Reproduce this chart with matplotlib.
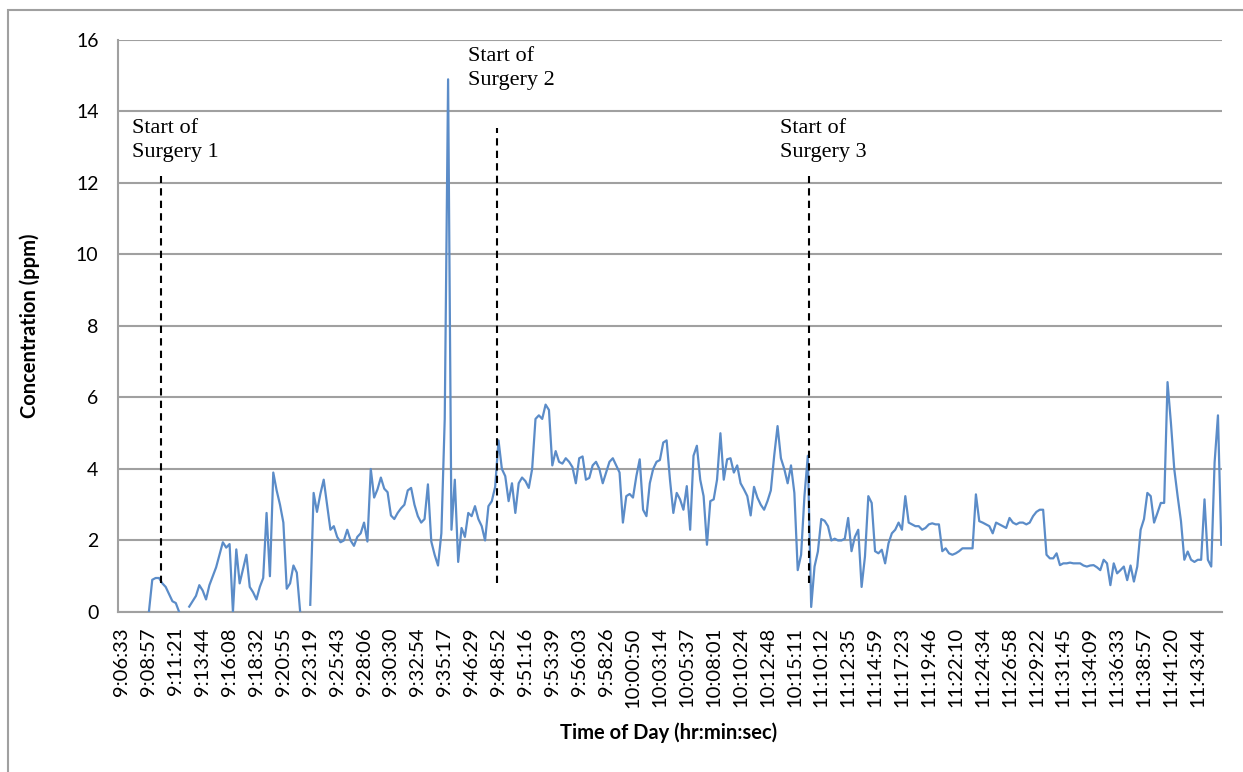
import numpy as np
import matplotlib.pyplot as plt
from matplotlib.patches import Rectangle

# tick labels on the category axis
time_labels = ["9:06:33", "9:08:57", "9:11:21", "9:13:44", "9:16:08", "9:18:32", "9:20:55",
               "9:23:19", "9:25:43", "9:28:06", "9:30:30", "9:32:54", "9:35:17", "9:46:29",
               "9:48:52", "9:51:16", "9:53:39", "9:56:03", "9:58:26", "10:00:50", "10:03:14",
               "10:05:37", "10:08:01", "10:10:24", "10:12:48", "10:15:11", "11:10:12", "11:12:35",
               "11:14:59", "11:17:23", "11:19:46", "11:22:10", "11:24:34", "11:26:58", "11:29:22",
               "11:31:45", "11:34:09", "11:36:33", "11:38:57", "11:41:20", "11:43:44"]

# concentration readings, 8 samples per tick label interval (nan = no reading)
nan = np.nan
conc = [nan, nan, nan, nan, nan, nan, nan, nan, 0.0, 0.9,
        0.95, 0.95, 0.8, 0.7, 0.5, 0.3, 0.25, 0.0, nan, nan,
        0.15, 0.3, 0.45, 0.75, 0.6, 0.35, 0.75, 1.0, 1.25, 1.6,
        1.95, 1.8, 1.9, 0.0, 1.75, 0.8, 1.2, 1.6, 0.7, 0.55,
        0.35, 0.7, 0.95, 2.77, 1.0, 3.9, 3.4, 3.0, 2.5, 0.65,
        0.8, 1.3, 1.1, 0.0, nan, nan, 0.2, 3.33, 2.8, 3.3,
        3.7, 3.0, 2.3, 2.4, 2.1, 1.95, 2.0, 2.3, 2.0, 1.85,
        2.1, 2.2, 2.5, 1.97, 4.0, 3.2, 3.43, 3.76, 3.45, 3.35,
        2.7, 2.6, 2.77, 2.9, 3.0, 3.4, 3.47, 3.0, 2.68, 2.5,
        2.6, 3.57, 1.97, 1.6, 1.3, 2.2, 5.4, 14.9, 2.3, 3.7,
        1.4, 2.35, 2.1, 2.77, 2.68, 2.96, 2.6, 2.4, 2.0, 2.96,
        3.1, 3.5, 4.8, 4.0, 3.8, 3.1, 3.6, 2.77, 3.6, 3.76,
        3.66, 3.47, 4.0, 5.4, 5.5, 5.4, 5.8, 5.65, 4.1, 4.5,
        4.2, 4.15, 4.3, 4.2, 4.05, 3.6, 4.3, 4.35, 3.7, 3.75,
        4.1, 4.2, 4.0, 3.6, 3.9, 4.2, 4.3, 4.1, 3.9, 2.5,
        3.24, 3.3, 3.2, 3.8, 4.27, 2.86, 2.68, 3.6, 4.0, 4.2,
        4.25, 4.74, 4.8, 3.7, 2.77, 3.33, 3.15, 2.86, 3.52, 2.3,
        4.37, 4.65, 3.7, 3.24, 1.88, 3.1, 3.15, 3.7, 5.0, 3.7,
        4.27, 4.3, 3.9, 4.1, 3.6, 3.43, 3.24, 2.7, 3.5, 3.2,
        3.0, 2.86, 3.1, 3.4, 4.37, 5.2, 4.3, 4.0, 3.6, 4.1,
        3.33, 1.17, 1.6, 3.24, 4.37, 0.14, 1.27, 1.69, 2.6, 2.55,
        2.4, 2.0, 2.05, 2.0, 2.0, 2.05, 2.63, 1.7, 2.1, 2.3,
        0.7, 1.55, 3.24, 3.05, 1.7, 1.64, 1.74, 1.36, 1.92, 2.2,
        2.3, 2.5, 2.3, 3.24, 2.5, 2.45, 2.4, 2.4, 2.3, 2.35,
        2.45, 2.48, 2.45, 2.45, 1.7, 1.78, 1.64, 1.6, 1.64, 1.7,
        1.78, 1.78, 1.78, 1.78, 3.29, 2.54, 2.5, 2.45, 2.4, 2.2,
        2.5, 2.45, 2.4, 2.35, 2.63, 2.5, 2.45, 2.5, 2.5, 2.45,
        2.5, 2.68, 2.8, 2.86, 2.86, 1.6, 1.5, 1.5, 1.64, 1.31,
        1.36, 1.36, 1.38, 1.36, 1.36, 1.36, 1.3, 1.27, 1.3, 1.31,
        1.25, 1.17, 1.46, 1.36, 0.75, 1.36, 1.08, 1.17, 1.27, 0.89,
        1.3, 0.85, 1.27, 2.3, 2.6, 3.33, 3.24, 2.5, 2.77, 3.05,
        3.05, 6.43, 5.3, 4.0, 3.24, 2.54, 1.46, 1.69, 1.46, 1.4,
        1.46, 1.46, 3.15, 1.46, 1.27, 4.18, 5.5, 1.88]
samples_per_label = 8

# surgery start markers (position in tick-label units, top of dashed line)
surgery_names = ["Start of\nSurgery 1", "Start of\nSurgery 2", "Start of\nSurgery 3"]
surgery_x = [1.45, 13.94, 25.54]
surgery_top = [12.2, 13.55, 12.2]
surgery_bottom = 0.8
label_x = [0.37, 12.86, 24.46]
label_y = [13.8, 15.8, 13.8]

plt.rcParams['font.family'] = ['Lato', 'DejaVu Sans']

fig = plt.figure(figsize=(12.43, 7.72), dpi=100)
ax = fig.add_axes([0.0949, 0.2073, 0.8882, 0.7409])

x = np.arange(len(conc)) / samples_per_label
ax.plot(x, conc, color='#5b8cc8', linewidth=1.6, zorder=3)

ax.vlines(surgery_x, surgery_bottom, surgery_top, colors='black',
          linestyles=(0, (3.5, 2.5)), linewidth=1.5, zorder=4)
for name, tx, ty in zip(surgery_names, label_x, label_y):
    ax.text(tx, ty, name, fontsize=16, family='Liberation Serif',
            va='top', ha='left', linespacing=1.38)

ax.set_ylim(0, 16)
ax.set_yticks(range(0, 17, 2))
ax.set_xlim(-0.15, 40.9)
ax.set_xticks(range(len(time_labels)))
ax.set_xticklabels(time_labels, rotation=90, fontsize=14.5)
ax.tick_params(axis='y', labelsize=14, length=0, pad=14)
ax.tick_params(axis='x', length=0, pad=11)

ax.yaxis.grid(True, color='#a0a0a0', linewidth=1.5)
ax.set_axisbelow(True)
for side in ['top', 'right']:
    ax.spines[side].set_visible(False)
for side in ['left', 'bottom']:
    ax.spines[side].set_color('#a0a0a0')
    ax.spines[side].set_linewidth(1.5)

ax.set_ylabel("Concentration (ppm)", fontsize=14.5, fontweight='bold')
ax.set_xlabel("Time of Day (hr:min:sec)", fontsize=14.5, fontweight='bold')
ax.yaxis.set_label_coords(-0.0797, 0.5)
ax.yaxis.label.set_va('center')
ax.xaxis.set_label_coords(0.4991, -0.2115)
ax.xaxis.label.set_va('center')

# outer chart border
fig.patches.append(Rectangle((8 / 1243, -0.02), 1.05, 1 - 10 / 772 + 0.02,
                             transform=fig.transFigure, fill=False,
                             edgecolor='#a0a0a0', linewidth=1.5))

fig.savefig("out.png", dpi=100)
